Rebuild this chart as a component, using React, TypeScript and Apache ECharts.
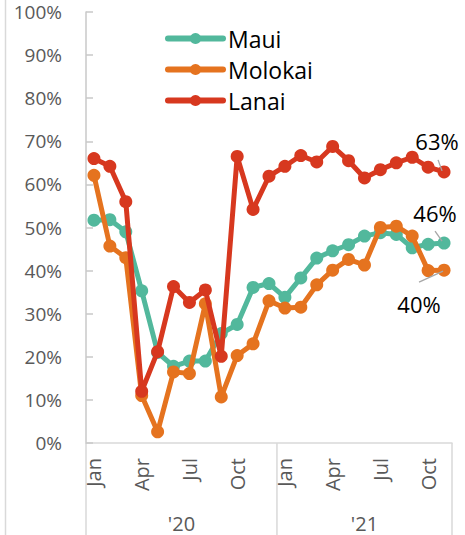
import React, { useEffect, useRef } from "react";
import * as echarts from "echarts";

const categories = ["Jan","Feb","Mar","Apr","May","Jun","Jul","Aug","Sep","Oct","Nov","Dec","Jan","Feb","Mar","Apr","May","Jun","Jul","Aug","Sep","Oct","Nov"];
const shownMonths = ["Jan", "Apr", "Jul", "Oct"];
const years = ["'20", "'21"];
const monthsPerYear = [12, 11];
const yTicks = [0, 10, 20, 30, 40, 50, 60, 70, 80, 90, 100];

const maui = [51.7, 51.8, 49.0, 35.3, 21.0, 17.8, 19.0, 19.0, 25.4, 27.5, 36.1, 37.0, 33.8, 38.3, 42.9, 44.6, 46.0, 48.0, 48.8, 48.4, 45.3, 46.1, 46.4];
const molokai = [62.1, 45.7, 43.0, 11.0, 2.6, 16.5, 16.1, 32.3, 10.7, 20.3, 23.0, 33.0, 31.3, 31.5, 36.7, 40.1, 42.6, 41.3, 50.0, 50.3, 48.0, 40.0, 40.1];
const lanai = [66.0, 64.2, 56.0, 12.0, 21.2, 36.3, 32.6, 35.5, 20.1, 66.5, 54.2, 61.9, 64.2, 66.7, 65.2, 68.8, 65.5, 61.5, 63.4, 65.0, 66.3, 64.0, 62.9];

const seriesNames = ["Maui", "Molokai", "Lanai"];
const seriesData = [maui, molokai, lanai];
const colors = ["#52B89C", "#E5731F", "#D7381F"];
// end-label offsets relative to the last point, and leader line ends
const labelOffsets = [[-9, -30], [-25, 34], [-7, -31]];
const leaderLines = [
  [[-9, -12], [-2, -2]],
  [[-25, 12], [-1, 1]],
  [[-6, -12], [-2, -1]],
];

const FONT = "'Open Sans', sans-serif";

export default function App() {
  const ref = useRef<HTMLDivElement>(null);
  useEffect(() => {
    if (!ref.current) return;
    const chart = echarts.init(ref.current, null, { renderer: "svg" });
    const last = categories.length - 1;
    chart.setOption({
      animation: false,
      backgroundColor: "#ffffff",
      color: colors,
      textStyle: { fontFamily: FONT },
      grid: { left: 86, right: 13, top: 12, bottom: 92, containLabel: false },
      legend: {
        orient: "vertical",
        left: 160,
        top: 22,
        itemWidth: 55,
        itemHeight: 14,
        itemGap: 8,
        data: seriesNames,
        lineStyle: { width: 6, cap: "round" },
        textStyle: { fontSize: 23, color: "#000", fontFamily: FONT, lineHeight: 23, padding: [0, 0, 0, 0] },
      },
      xAxis: {
        type: "category",
        data: categories,
        boundaryGap: true,
        axisLine: { show: true, lineStyle: { color: "#D9D9D9", width: 1.5 } },
        axisTick: { show: false },
        axisLabel: {
          interval: (i: number, v: string) => shownMonths.includes(v),
          rotate: 90,
          margin: 15,
          fontSize: 20,
          color: "#595959",
          fontFamily: FONT,
        },
      },
      yAxis: {
        type: "value",
        min: yTicks[0],
        max: yTicks[yTicks.length - 1],
        interval: 10,
        axisLine: { show: true, lineStyle: { color: "#C8C8C8", width: 1.5 } },
        axisTick: { show: true, inside: true, length: 7, lineStyle: { color: "#C8C8C8", width: 1.5 } },
        splitLine: { show: false },
        axisLabel: { formatter: "{value}%", margin: 24, fontSize: 19, lineHeight: 16, color: "#595959", fontFamily: FONT },
      },
      series: seriesNames.map((name, si) => ({
        name,
        type: "line",
        data: seriesData[si],
        symbol: "circle",
        symbolSize: 13,
        showSymbol: true,
        showAllSymbol: true,
        lineStyle: { width: 5, color: colors[si] },
        itemStyle: { color: colors[si] },
        z: 2 + si,
      })),
    });

    // decorations computed from the axes
    const p0 = chart.convertToPixel({ xAxisIndex: 0 }, 0) as number;
    const p1 = chart.convertToPixel({ xAxisIndex: 0 }, 1) as number;
    const step = p1 - p0;
    const yBase = chart.convertToPixel({ yAxisIndex: 0 }, 0) as number;
    const bounds: number[] = [p0 - step / 2];
    monthsPerYear.forEach((n) => bounds.push(bounds[bounds.length - 1] + n * step));
    const graphics: any[] = [
      { type: "line", shape: { x1: 5.5, y1: 0, x2: 5.5, y2: 535 }, style: { stroke: "#D9D9D9", lineWidth: 1.5 } },
    ];
    bounds.forEach((b) => {
      graphics.push({ type: "line", shape: { x1: b, y1: yBase, x2: b, y2: 535 }, style: { stroke: "#D9D9D9", lineWidth: 1.5 } });
    });
    years.forEach((y, i) => {
      graphics.push({
        type: "text",
        x: (bounds[i] + bounds[i + 1]) / 2,
        y: 523,
        style: { text: y, fontSize: 20, lineHeight: 18, fill: "#595959", fontFamily: FONT, align: "center", verticalAlign: "middle" },
      });
    });
    seriesData.forEach((d, si) => {
      const pt = chart.convertToPixel({ seriesIndex: si }, [last, d[last]]) as number[];
      const [a, b] = leaderLines[si];
      graphics.push({
        type: "line",
        shape: { x1: pt[0] + a[0], y1: pt[1] + a[1], x2: pt[0] + b[0], y2: pt[1] + b[1] },
        style: { stroke: "#A6A6A6", lineWidth: 1.3 },
        z: 10,
      });
      graphics.push({
        type: "text",
        x: pt[0] + labelOffsets[si][0],
        y: pt[1] + labelOffsets[si][1],
        z: 10,
        style: {
          text: Math.round(d[last]) + "%",
          fontSize: 22,
          fill: "#000",
          fontFamily: FONT,
          align: "center",
          verticalAlign: "middle",
        },
      });
    });
    chart.setOption({ graphic: graphics });
    return () => chart.dispose();
  }, []);
  return <div ref={ref} style={{ position: "fixed", left: 0, top: 0, width: 465, height: 535 }} />;
}
